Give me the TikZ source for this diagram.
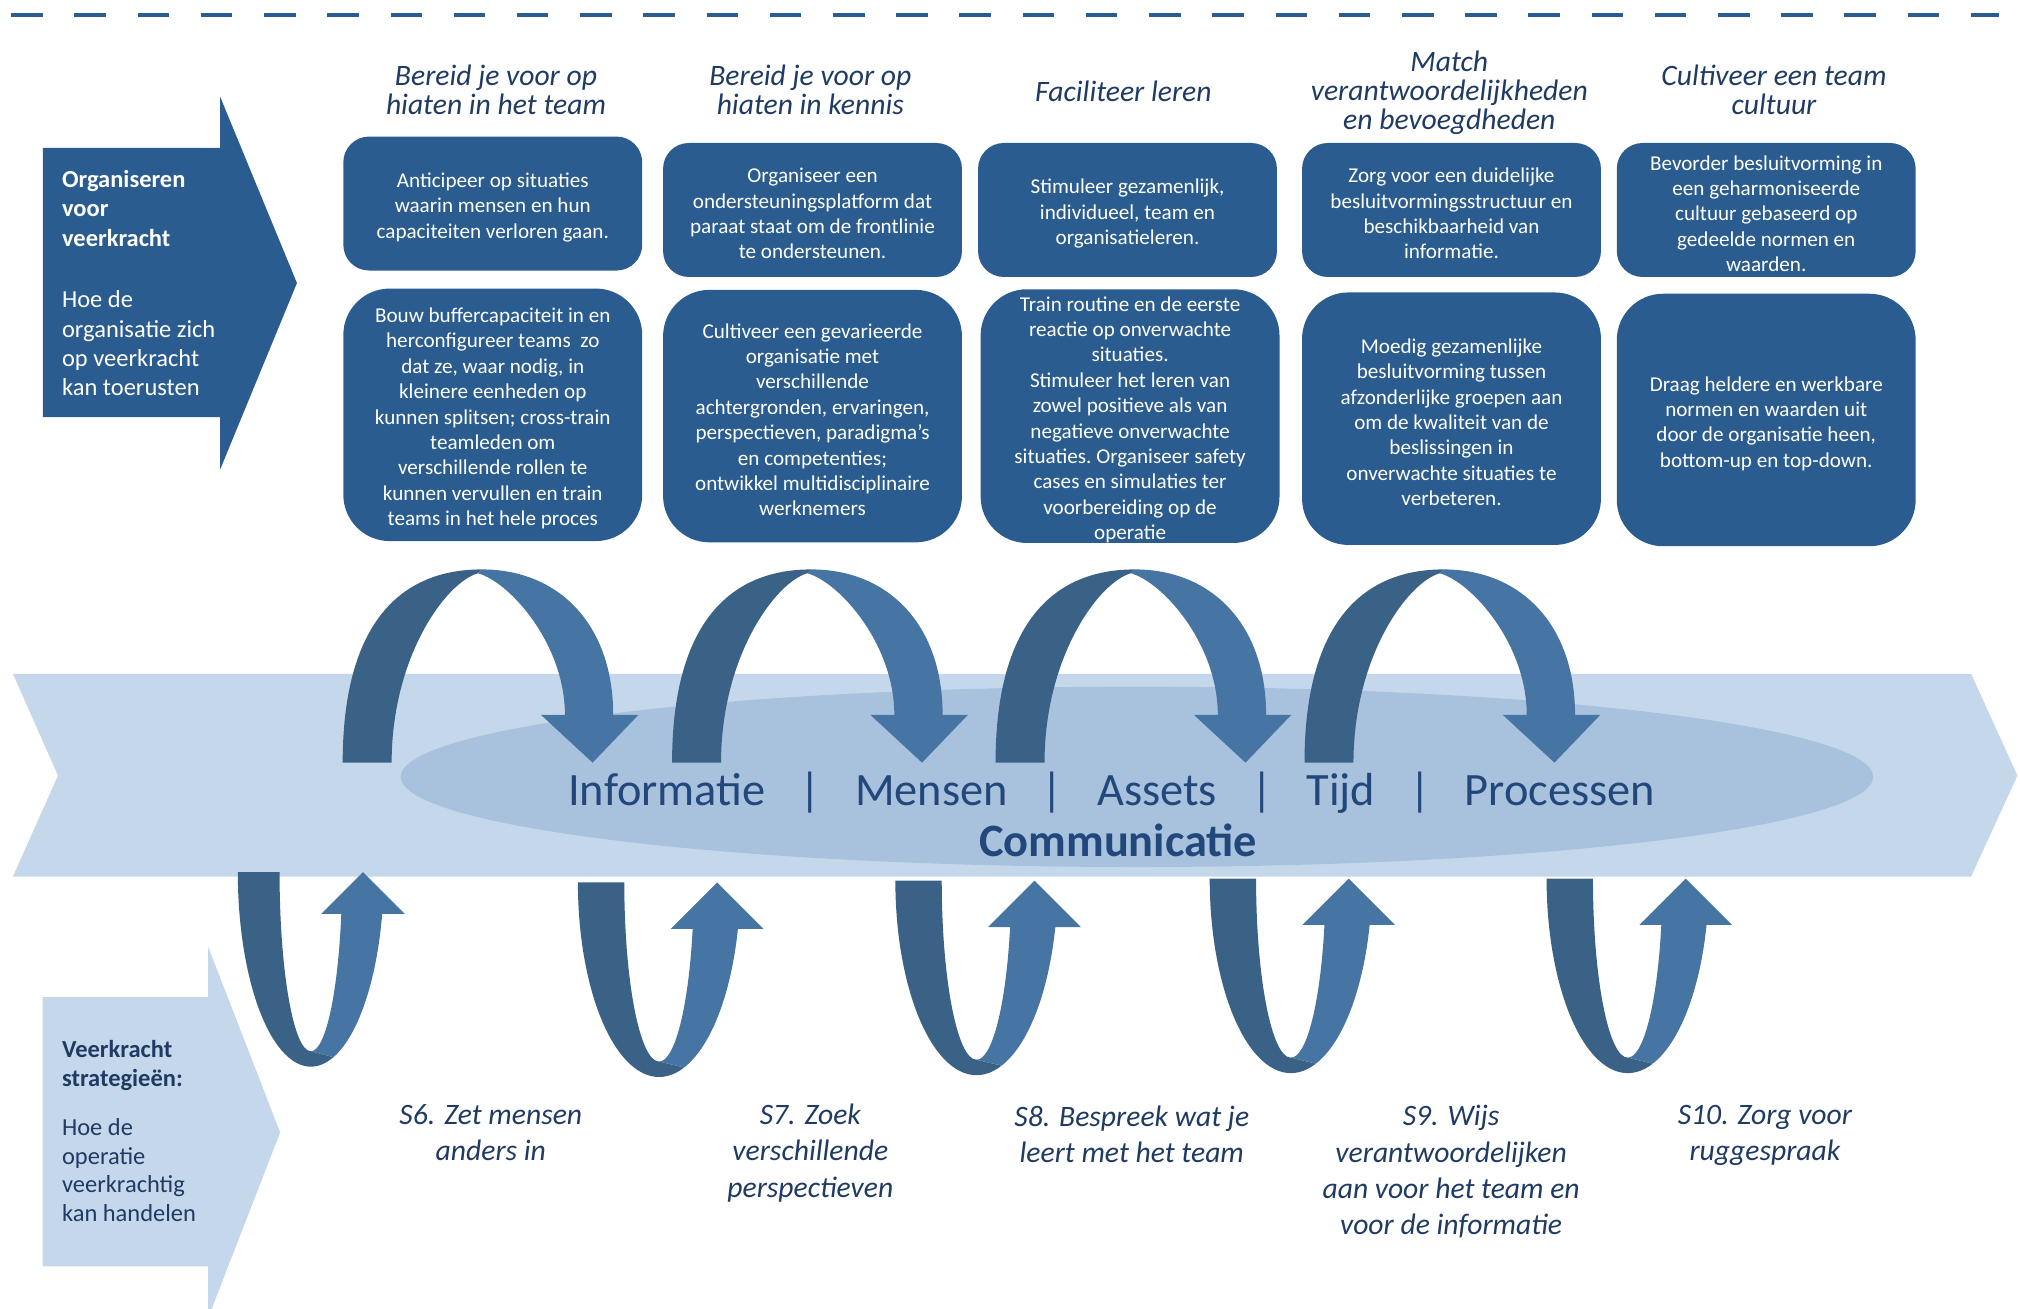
\documentclass[tikz,border=0pt]{standalone}
\usepackage{fontspec}
\setmainfont{Carlito}
\usepackage{tikz}
\usetikzlibrary{positioning}
\definecolor{boxblue}{HTML}{2B5C8F}
\definecolor{arcdark}{HTML}{3A6186}
\definecolor{arclight}{HTML}{4775A3}
\definecolor{bandblue}{HTML}{C5D8EB}
\definecolor{ellblue}{HTML}{A8C2DE}
\definecolor{navy}{HTML}{1F3A63}
\definecolor{wordblue}{HTML}{22477A}
\tikzset{
    %Define style for column titles
    coltitle/.style={
           align=center,
           inner sep=0pt,
           text=navy,
           font=\fontsize{23}{22.5}\selectfont\itshape},
    %Define style for boxes
    topbox/.style={
           rectangle,
           rounded corners=20pt,
           fill=boxblue,
           text=white,
           align=center,
           text width=226pt,
           inner sep=0pt,
           minimum width=232pt,
           minimum height=104pt,
           execute at begin node={\spaceskip=\fontdimen2\font\xspaceskip=\fontdimen2\font\rule{0pt}{17pt}},
           font=\fontsize{16.4}{19.7}\selectfont},
    bottombox/.style={
           topbox,
           rounded corners=36pt,
           minimum height=196pt}
}

\begin{document}
\begin{tikzpicture}[x=1pt,y=-1pt,node distance=162pt]
	% styles
	\tikzstyle{strat} = [anchor=north, align=center, inner sep=0pt, text=navy, font=\fontsize{23}{28}\selectfont\itshape]
	\tikzstyle{sidetext} = [anchor=north west, align=left, inner sep=0pt, font=\fontsize{19}{22.8}\selectfont]

	\useasboundingbox (0,0) rectangle (1568,1016);
	\draw[boxblue, line width=2.7pt, dash pattern=on 24.5pt off 24.57pt] (8.7,11.6) -- (1552,11.6);

	% side arrows
	\fill[boxblue] (33.3,114.8) -- (170.8,114.8) -- (170.8,74.9) -- (230.5,219.7)
	               -- (170.8,364.6) -- (170.8,323.8) -- (33.3,323.8) -- cycle;
	\node[sidetext, text=white](org-text) at (48,132){\textbf{Organiseren}\\\textbf{voor}\\\textbf{veerkracht}\\[25pt]Hoe de\\organisatie zich\\op veerkracht\\kan toerusten};

	\fill[bandblue] (33,774) -- (161.6,774) -- (161.6,735) -- (217.5,879)
	                -- (161.6,1023) -- (161.6,983) -- (33,983) -- cycle;
	\node[sidetext, text=navy, font=\fontsize{19}{22.5}\selectfont](strat-text) at (48,807.5){\textbf{Veerkracht}\\\textbf{strategieën:}\\[15pt]Hoe de\\operatie\\veerkrachtig\\kan handelen};

	% team column
	\node[coltitle](team-name) at (385,70){Bereid je voor op\\hiaten in het team};
	\node[topbox](team-top) at (382.5,158){Anticipeer op situaties\\waarin mensen en hun\\capaciteiten verloren gaan.};
	\node[bottombox, below of= team-top, yshift=-2pt](team-bottom){Bouw buffercapaciteit in en\\herconfigureer teams\ \ zo\\dat ze, waar nodig, in\\kleinere eenheden op\\kunnen splitsen; cross-train\\teamleden om\\verschillende rollen te\\kunnen vervullen en train\\teams in het hele proces};

	% kennis column
	\node[coltitle](kennis-name) at (629,70){Bereid je voor op\\hiaten in kennis};
	\node[topbox](kennis-top) at (630.7,163){Organiseer een\\ondersteuningsplatform dat\\paraat staat om de frontlinie\\te ondersteunen.};
	\node[bottombox, below of= kennis-top, yshift=2pt](kennis-bottom){Cultiveer een gevarieerde\\organisatie met\\verschillende\\achtergronden, ervaringen,\\perspectieven, paradigma’s\\en competenties;\\ontwikkel multidisciplinaire\\werknemers};

	% leren column
	\node[coltitle](leren-name) at (872,71){Faciliteer leren};
	\node[topbox](leren-top) at (875.2,163){Stimuleer gezamenlijk,\\individueel, team en\\organisatieleren.};
	\node[bottombox, below of= leren-top, xshift=2pt, yshift=2pt](leren-bottom){Train routine en de eerste\\reactie op onverwachte\\situaties.\\Stimuleer het leren van\\zowel positieve als van\\negatieve onverwachte\\situaties. Organiseer safety\\cases en simulaties ter\\voorbereiding op de\\operatie};

	% match column
	\node[coltitle](match-name) at (1125,72){Match\\verantwoordelijkheden\\en bevoegdheden};
	\node[topbox](match-top) at (1126.7,163){Zorg voor een duidelijke\\besluitvormingsstructuur en\\beschikbaarheid van\\informatie.};
	\node[bottombox, below of= match-top](match-bottom){Moedig gezamenlijke\\besluitvorming tussen\\afzonderlijke groepen aan\\om de kwaliteit van de\\beslissingen in\\onverwachte situaties te\\verbeteren.};

	% cultuur column
	\node[coltitle](cultuur-name) at (1377,70){Cultiveer een team\\cultuur};
	\node[topbox](cultuur-top) at (1371,163){Bevorder besluitvorming in\\een geharmoniseerde\\cultuur gebaseerd op\\gedeelde normen en\\waarden.};
	\node[bottombox, below of= cultuur-top, yshift=-1pt](cultuur-bottom){Draag heldere en werkbare\\normen en waarden uit\\door de organisatie heen,\\bottom-up en top-down.};

	% band and ellipse
	\fill[bandblue] (10,523) -- (1530,523) -- (1566,602) -- (1530,680.5) -- (10,680.5) -- (45,602) -- cycle;
	\fill[ellblue] (882.5,603) ellipse[x radius=571.5, y radius=70];

	% upper loops
	\foreach \lx in {266,521.7,772.8,1012.6}{
		\fill[arcdark] (\lx,592) .. controls (\lx,490) and ({\lx+40},442) .. ({\lx+108},442)
		      -- ({\lx+105},445) .. controls ({\lx+80},452) and ({\lx+38},510) .. ({\lx+38},592) -- cycle;
		\fill[arclight] ({\lx+108},442) .. controls ({\lx+168},442) and ({\lx+210},485) .. ({\lx+210},555)
		      -- ({\lx+229.5},555) -- ({\lx+194},592) -- ({\lx+154},555) -- ({\lx+172.5},555)
		      .. controls ({\lx+172.5},500) and ({\lx+130},452) .. ({\lx+105},445) -- cycle;
	}

	% lower loops
	\foreach \lx/\ty/\s in {184.6/677/0.9, 448.6/685/1, 695/683.6/1, 939/682/1, 1200.5/682/1}{
		\pgfmathsetmacro\rout{63*\s}
		\pgfmathsetmacro\rin{27*\s}
		\pgfmathsetmacro\cx{\lx+\rout}
		\pgfmathsetmacro\hd{36*\s}
		\pgfmathsetmacro\aout{asin(\hd/151)}
		\pgfmathsetmacro\ain{asin(\hd/139)}
		\fill[arcdark] (\lx,\ty) arc[start angle=180, end angle=72, x radius=\rout, y radius=151]
		      -- (\cx,{\ty+139}) arc[start angle=90, end angle=180, x radius=\rin, y radius=139] -- cycle;
		\fill[arclight] ({\cx+\rout*cos(72)},{\ty+151*sin(72)}) arc[start angle=72, end angle=\aout, x radius=\rout, y radius=151]
		      -- ({\lx+144*\s},{\ty+\hd}) -- ({\lx+108*\s},\ty) -- ({\lx+72*\s},{\ty+\hd})
		      -- ({\cx+\rin*cos(\ain)},{\ty+\hd}) arc[start angle=\ain, end angle=90, x radius=\rin, y radius=139] -- cycle;
	}

	% resources
	\node[anchor=base, inner sep=0pt, text=wordblue, font=\fontsize{36}{40}\selectfont](res) at (863,625){Informatie\hspace{26.5pt}|\hspace{26.5pt}Mensen\hspace{26.5pt}|\hspace{26.5pt}Assets\hspace{26.5pt}|\hspace{26.5pt}Tijd\hspace{26.5pt}|\hspace{26.5pt}Processen};
	\node[anchor=base, inner sep=0pt, text=wordblue, font=\fontsize{36}{40}\selectfont\bfseries](comm) at (868,665){Communicatie};

	% strategies
	\node[strat](team-strat) at (381,857){S6. Zet mensen\\anders in};
	\node[strat](kennis-strat) at (629,857){S7. Zoek\\verschillende\\perspectieven};
	\node[strat](leren-strat) at (878.5,858){S8. Bespreek wat je\\leert met het team};
	\node[strat](match-strat) at (1126.4,858){S9. Wijs\\verantwoordelijken\\aan voor het team en\\voor de informatie};
	\node[strat](cultuur-strat) at (1370,858){S10. Zorg voor\\ruggespraak};

\end{tikzpicture}
\end{document}
